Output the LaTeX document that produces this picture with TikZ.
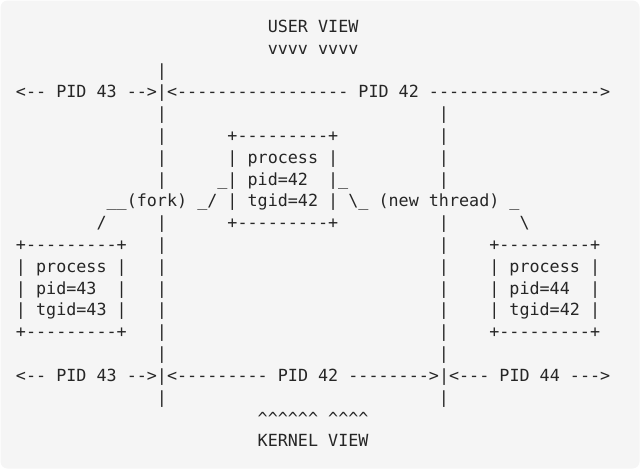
\documentclass[tikz,border=0pt]{standalone}
\usepackage{fontspec}
\setmonofont{DejaVu Sans Mono}
\definecolor{bgc}{HTML}{F5F5F5}
\definecolor{ink}{HTML}{262626}
\newlength{\cw}\setlength{\cw}{10.07pt}
\newcommand{\gap}[1]{\hspace*{#1\cw}}
\newcommand{\bs}{\textbackslash}
\newcommand{\ca}{\textasciicircum}
\tikzset{
  art/.style={anchor=base west, inner sep=0pt, outer sep=0pt, text=ink,
    font=\ttfamily\fontsize{16.73}{20}\selectfont},
}
\newcommand{\col}[1]{16pt+#1*10.07pt}
\newcommand{\row}[1]{-32.5pt-#1*21.8pt}
\begin{document}
\begin{tikzpicture}[x=1pt,y=1pt]
\useasboundingbox (0,0) rectangle (640,-469);
\fill[bgc, rounded corners=7pt] (0.5,-0.5) rectangle (639.5,-468.5);
\node[art] (l0)  at ({\col{25}},{\row{0}})  {USER\ VIEW};
\node[art] (l1)  at ({\col{25}},{\row{1}})  {vvvv\ vvvv};
\node[art] (l2)  at ({\col{14}},{\row{2}})  {|};
\node[art] (l3)  at ({\col{0}},{\row{3}})   {<--\ PID\ 43\ -->|<-----------------\ PID\ 42\ ----------------->};
\node[art] (l4)  at ({\col{14}},{\row{4}})  {|\gap{27}|};
\node[art] (l5)  at ({\col{14}},{\row{5}})  {|\gap{6}+---------+\gap{10}|};
\node[art] (l6)  at ({\col{14}},{\row{6}})  {|\gap{6}|\ process\ |\gap{10}|};
\node[art] (l7)  at ({\col{14}},{\row{7}})  {|\gap{5}\_|\ pid=42\gap{2}|\_\gap{9}|};
\node[art] (l8)  at ({\col{9}},{\row{8}})   {\_\_(fork)\ \_/\ |\ tgid=42\ |\ \bs\_\ (new\ thread)\ \_};
\node[art] (l9)  at ({\col{8}},{\row{9}})   {/\gap{5}|\gap{6}+---------+\gap{10}|\gap{7}\bs};
\node[art] (l10) at ({\col{0}},{\row{10}})  {+---------+\gap{3}|\gap{27}|\gap{4}+---------+};
\node[art] (l11) at ({\col{0}},{\row{11}})  {|\ process\ |\gap{3}|\gap{27}|\gap{4}|\ process\ |};
\node[art] (l12) at ({\col{0}},{\row{12}})  {|\ pid=43\gap{2}|\gap{3}|\gap{27}|\gap{4}|\ pid=44\gap{2}|};
\node[art] (l13) at ({\col{0}},{\row{13}})  {|\ tgid=43\ |\gap{3}|\gap{27}|\gap{4}|\ tgid=42\ |};
\node[art] (l14) at ({\col{0}},{\row{14}})  {+---------+\gap{3}|\gap{27}|\gap{4}+---------+};
\node[art] (l15) at ({\col{14}},{\row{15}}) {|\gap{27}|};
\node[art] (l16) at ({\col{0}},{\row{16}})  {<--\ PID\ 43\ -->|<---------\ PID\ 42\ -------->|<---\ PID\ 44\ --->};
\node[art] (l17) at ({\col{14}},{\row{17}}) {|\gap{27}|};
\node[art] (l18) at ({\col{24}},{\row{18}}) {\ca\ca\ca\ca\ca\ca\ \ca\ca\ca\ca};
\node[art] (l19) at ({\col{24}},{\row{19}}) {KERNEL\ VIEW};
\end{tikzpicture}
\end{document}
